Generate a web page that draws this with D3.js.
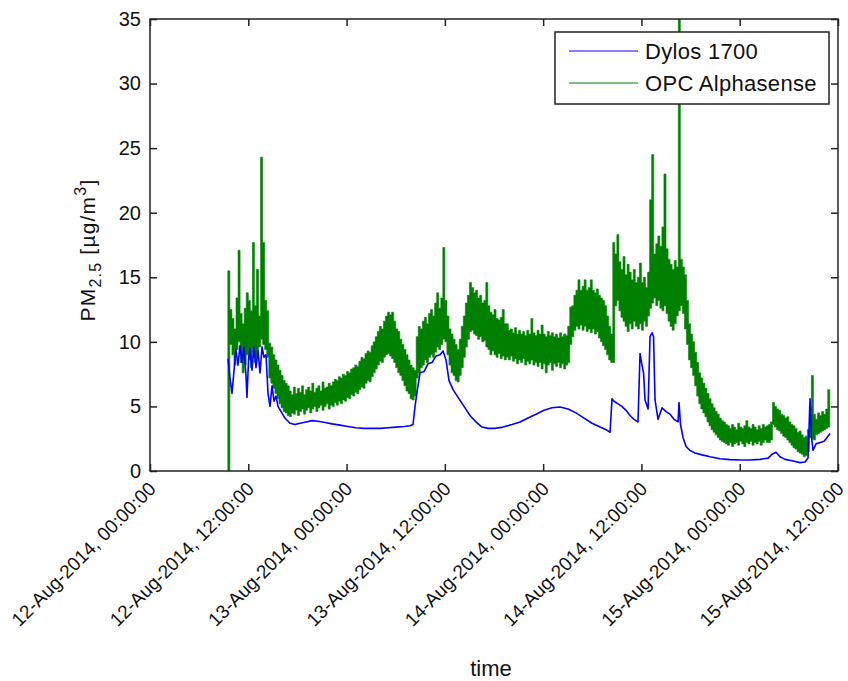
<!DOCTYPE html>
<html>
<head>
<meta charset="utf-8">
<script src="https://cdn.jsdelivr.net/npm/d3@7"></script>
<style>
  html, body { margin: 0; padding: 0; background: #fff; }
  svg { display: block; font-family: "Liberation Sans", Arial, sans-serif; }
</style>
</head>
<body>
<svg id="chart" width="848" height="681"></svg>
<script>
// PM2.5 time series from two sensors, 12–15 Aug 2014

// OPC Alphasense: minimum and maximum reading within each 15-minute bin,
// bins starting 12-Aug-2014 09:30
const opcStart = "2014-08-12T09:30:00Z";
const opcBinMinutes = 15;
const opcHigh = [
  15.5,
  12.5, 11.8, 11.0, 13.4, 17.1, 12.2, 11.4, 12.6, 13.8, 13.2, 12.4, 17.7, 12.8, 15.6, 12.0, 24.3, 17.7, 13.2, 12.4,
  9.9, 9.6, 9.0, 8.6, 8.2, 7.8, 7.4, 7.0, 6.8, 6.6,
  6.2, 5.9, 6.5, 6.0, 6.4, 6.1, 6.6, 5.9, 6.3, 6.5, 6.2, 6.8, 6.1, 6.4, 6.6, 6.2, 6.9, 6.4, 6.5, 6.8, 6.6,
  6.9, 7.1, 7.0, 7.3, 7.2, 7.5, 7.4, 7.7, 7.6, 7.9, 8.0, 8.2, 8.1, 8.5, 8.8, 8.7, 9.1, 9.3, 9.2, 9.7,
  10.0, 10.4, 10.8, 11.2, 11.0, 11.6, 12.0, 12.3, 12.1, 12.3,
  11.6, 11.0, 10.8, 10.2, 9.8, 9.4, 9.0, 8.6, 8.2, 8.0,
  7.8, 10.4, 11.2, 11.0, 11.6, 11.9, 11.4, 12.2, 12.5, 12.0, 13.0, 13.8, 12.6, 13.4, 17.3,
  13.2, 12.0, 11.0, 10.6, 10.2, 9.8, 9.4,
  10.2, 11.2, 12.0, 13.0, 13.6, 14.6, 14.2, 13.8, 14.0, 13.4, 13.6, 13.0, 13.2,
  14.6, 12.8, 12.3, 12.1, 12.5, 11.8, 11.7, 11.9, 12.5, 11.4,
  11.4, 10.9, 11.0, 10.7, 11.1, 10.6, 10.9, 10.6, 10.8, 10.5,
  10.9, 10.6, 11.8, 10.7, 10.5, 10.9, 10.6, 11.3, 10.6, 10.4,
  10.8, 10.5, 10.7, 10.4, 10.6, 10.3, 10.7, 10.4, 10.6, 10.5,
  11.2, 12.7, 12.8, 13.6, 14.0, 14.8, 14.0, 14.3, 14.8, 14.0, 14.2, 14.8, 14.0, 13.8, 14.1, 13.6, 13.4, 13.2,
  12.8, 12.0, 11.2, 10.6, 17.7,
  16.8, 18.3, 16.2, 15.6, 16.6, 15.2, 16.0, 15.4, 14.8, 15.6, 14.6, 15.0,
  16.1, 14.6, 15.0, 14.2, 15.4, 21.0, 24.5, 16.8, 17.6, 18.2, 17.4, 18.9, 23.0, 17.2, 16.4,
  16.0, 15.6, 16.3, 15.8, 40.0, 16.4, 15.8,
  15.2, 13.2, 11.4, 10.6, 10.0, 9.2, 8.4, 7.6, 7.2, 6.8, 6.4, 6.0, 5.6,
  5.2, 4.9, 4.6, 4.4, 4.1, 3.9, 3.8, 3.6,
  3.5, 3.3, 3.6, 3.4, 3.2, 3.7, 3.4, 3.3, 3.5, 3.9, 3.4, 3.3, 3.6, 3.4, 3.2, 3.5, 3.3, 3.6, 3.4, 3.5,
  3.6, 3.8, 5.3, 5.0, 4.8, 4.7, 4.4, 4.3, 4.1, 4.2, 3.8, 3.6, 3.5, 3.3, 3.0, 3.1, 2.8, 2.6, 2.7, 3.2, 5.0, 7.4,
  4.4, 4.0, 4.5, 4.3, 4.6, 4.4, 4.8, 6.3, 4.9
];
const opcLow = [
  0,
  9.8, 9.0, 8.2, 9.4, 10.0, 8.4, 7.6, 8.2, 9.0, 8.6, 8.0, 9.2, 8.4, 8.8, 9.6, 10.2, 9.8, 9.4, 8.8,
  7.2, 6.8, 6.4, 6.0, 5.6, 5.2, 4.9, 4.6, 4.5, 4.3,
  4.2, 4.5, 4.4, 4.7, 4.3, 4.6, 4.8, 4.4, 4.7, 4.9, 4.5, 4.8, 5.0, 4.6, 4.9, 5.1, 4.7, 5.0, 5.2, 4.8, 5.1,
  5.0, 5.3, 5.1, 5.4, 5.2, 5.5, 5.4, 5.7, 5.6, 5.9, 5.8, 6.1, 6.0, 6.3, 6.5, 6.4, 6.8, 7.0, 6.9, 7.3,
  7.6, 7.9, 8.2, 8.5, 8.4, 8.8, 9.0, 9.1, 8.9, 8.7,
  8.4, 8.0, 7.6, 7.4, 7.0, 6.6, 6.2, 6.0, 5.6, 5.5,
  5.8, 7.2, 7.6, 8.0, 8.2, 8.6, 8.4, 8.8, 9.0, 8.8, 9.2, 9.6, 9.4, 9.8, 10.2,
  10.0, 9.0, 8.2, 7.6, 7.4, 7.0, 6.9,
  7.4, 8.0, 8.8, 9.6, 10.2, 10.8, 10.9, 10.6, 10.5, 10.2, 10.4, 10.0, 10.1,
  9.6, 9.4, 9.0, 9.3, 9.0, 8.8, 9.1, 8.7, 8.9, 8.6,
  8.8, 8.6, 8.9, 8.5, 8.7, 8.3, 8.6, 8.4, 8.7, 8.2,
  8.5, 8.3, 8.6, 8.2, 8.4, 8.1, 8.4, 7.9, 8.3, 7.6,
  8.2, 8.4, 7.8, 8.3, 8.1, 8.4, 8.0, 8.3, 7.9, 8.2,
  8.4, 9.8, 10.4, 10.9, 11.2, 11.0, 11.3, 10.9, 11.2, 10.8, 11.0, 10.7, 11.0, 10.6, 10.8, 10.3, 10.0, 9.7,
  9.4, 9.0, 8.6, 8.4, 8.4,
  12.8, 13.2, 12.4, 11.9, 11.6, 11.2, 10.8, 11.4, 11.0, 11.6, 11.2, 11.0,
  11.4, 10.9, 11.6, 11.2, 12.0, 12.6, 13.0, 13.4, 12.8, 13.2, 12.6, 12.4, 12.8, 12.2, 11.6,
  11.2, 10.9, 11.4, 12.0, 12.4, 12.8, 12.2,
  11.0, 9.8, 8.6, 8.0, 7.4, 6.6, 5.8, 5.2, 4.8, 4.5, 4.2, 3.8, 3.5,
  3.2, 3.0, 2.8, 2.6, 2.4, 2.3, 2.2, 2.1,
  2.0, 2.2, 1.9, 2.1, 2.2, 2.0, 2.3, 2.1, 1.9, 2.2, 2.1, 2.3, 2.0, 2.2, 2.1, 2.3, 2.0, 2.2, 2.4, 2.2,
  2.2, 2.4, 3.6, 3.4, 3.2, 3.1, 2.9, 2.7, 2.6, 2.4, 2.2, 2.0, 1.8, 1.7, 1.5, 1.4, 1.3, 1.1, 1.2, 1.5, 2.6, 2.5,
  2.4, 2.8, 2.9, 3.0, 3.1, 3.2, 3.3, 3.4, 3.6
];

// Dylos 1700: reading times (hours after 12-Aug-2014 00:00) and values
const dylosHours = [
  9.52, 9.77, 10.01, 10.26, 10.5, 10.74, 10.99, 11.23, 11.48, 11.72,
  11.84, 12.03, 12.21, 12.45, 12.7, 12.94, 13.19, 13.43, 13.68, 13.92,
  14.16, 14.41, 14.65, 14.9, 15.14, 15.38, 15.63, 16.0, 16.48, 17.09,
  17.7, 18.32, 19.05, 19.78, 20.51, 21.37, 22.22, 23.2, 24.18, 25.15,
  26.13, 27.11, 28.08, 29.06, 30.04, 31.01, 31.75, 32.11, 32.36, 32.6,
  32.97, 33.46, 33.94, 34.43, 34.92, 35.41, 35.78, 36.14, 36.51, 37.0,
  37.61, 38.34, 39.07, 39.8, 40.54, 41.27, 42.12, 43.1, 44.2, 45.18,
  46.15, 47.13, 48.11, 49.08, 50.06, 51.04, 52.01, 52.99, 53.97, 54.95,
  55.68, 56.17, 56.41, 56.65, 57.14, 57.61, 58.12, 58.61, 59.1, 59.58,
  59.83, 60.07, 60.26, 60.44, 60.81, 61.05, 61.3, 61.48, 61.66, 62.03,
  62.52, 63.0, 63.49, 63.98, 64.47, 64.59, 64.77, 65.08, 65.45, 65.93,
  66.54, 67.4, 68.38, 69.6, 70.82, 72.04, 73.26, 74.48, 75.46, 75.95,
  76.43, 76.92, 77.53, 78.39, 79.37, 79.98, 80.34, 80.59, 80.77, 80.95,
  81.32, 81.81, 82.3, 82.66, 83.03
];
const dylosValues = [
  8.7, 7.2, 6.0, 7.8, 9.4, 8.2, 9.7, 8.4, 9.6, 7.4,
  5.7, 8.6, 9.5, 7.8, 9.6, 8.0, 9.3, 7.6, 9.6, 8.8,
  9.0, 6.0, 5.0, 6.6, 5.4, 5.8, 5.0, 4.6, 4.1, 3.7,
  3.6, 3.7, 3.8, 3.9, 3.85, 3.75, 3.65, 3.55, 3.45, 3.35,
  3.3, 3.3, 3.3, 3.35, 3.4, 3.45, 3.5, 3.6, 5.0, 6.1,
  7.6, 7.7, 8.3, 8.4, 8.9, 9.0, 9.3, 8.6, 7.0, 6.3,
  5.7, 5.0, 4.3, 3.8, 3.4, 3.3, 3.3, 3.4, 3.6, 3.8,
  4.1, 4.4, 4.7, 4.9, 4.95, 4.8, 4.5, 4.1, 3.7, 3.4,
  3.2, 3.0, 5.6, 5.4, 5.2, 5.0, 4.7, 4.3, 4.0, 3.8,
  9.1, 8.2, 7.6, 5.5, 4.8, 10.4, 10.7, 10.4, 5.5, 4.0,
  4.9, 4.6, 4.4, 4.0, 3.8, 5.3, 3.6, 2.6, 1.9, 1.6,
  1.4, 1.25, 1.1, 0.95, 0.88, 0.85, 0.85, 0.9, 1.0, 1.3,
  1.45, 1.1, 0.9, 0.8, 0.65, 0.7, 1.0, 5.6, 2.6, 1.6,
  2.1, 2.2, 2.3, 2.6, 2.9
];

// Axis settings
const xDomain = ["2014-08-12T00:00:00Z", "2014-08-15T12:00:00Z"];
const xTickHours = 12;
const yDomain = [0, 35];
const yTickValues = [0, 5, 10, 15, 20, 25, 30, 35];

const seriesNames = ["Dylos 1700", "OPC Alphasense"];
const seriesColors = ["#0000ff", "#008000"];

const W = 848, H = 681;
const margin = { top: 19, right: 10, bottom: 210, left: 150 };
const innerW = W - margin.left - margin.right;
const innerH = H - margin.top - margin.bottom;
const axisColor = "#222";
const textColor = "#111";

const svg = d3.select("#chart");

const x = d3.scaleUtc()
  .domain(xDomain.map(d => new Date(d)))
  .range([margin.left, margin.left + innerW]);
const y = d3.scaleLinear()
  .domain(yDomain)
  .range([margin.top + innerH, margin.top]);

const t0 = x.domain()[0].getTime();
const opcT0 = new Date(opcStart).getTime();
const opc = opcHigh.map((hi, i) => ({
  t: new Date(opcT0 + i * opcBinMinutes * 60000),
  lo: opcLow[i],
  hi
}));
const dylos = dylosHours.map((h, i) => ({ t: new Date(t0 + h * 3600000), v: dylosValues[i] }));

// Clip the traces to the axes box
svg.append("defs").append("clipPath").attr("id", "plot-clip")
  .append("rect")
  .attr("x", margin.left).attr("y", margin.top)
  .attr("width", innerW).attr("height", innerH);

const traces = svg.append("g").attr("clip-path", "url(#plot-clip)");

// OPC: min–max band per bin
traces.append("path").datum(opc)
  .attr("d", d3.area()
    .curve(d3.curveStepAfter)
    .x(d => x(d.t))
    .y0(d => y(d.lo))
    .y1(d => y(d.hi)))
  .attr("fill", seriesColors[1])
  .attr("stroke", seriesColors[1])
  .attr("stroke-width", 0.6);

// Dylos: line
traces.append("path").datum(dylos)
  .attr("d", d3.line().x(d => x(d.t)).y(d => y(d.v)))
  .attr("fill", "none")
  .attr("stroke", seriesColors[0])
  .attr("stroke-width", 1.6)
  .attr("stroke-linejoin", "round");

// Axes: ticks point inward on all four sides
const xTicks = d3.utcHour.every(xTickHours).range(x.domain()[0], new Date(x.domain()[1].getTime() + 1));
const tickLen = 7;

const gx = svg.append("g")
  .attr("transform", `translate(0,${margin.top + innerH})`)
  .call(d3.axisBottom(x).tickValues(xTicks).tickSize(-tickLen).tickSizeOuter(0).tickFormat(""));
const gxTop = svg.append("g")
  .attr("transform", `translate(0,${margin.top})`)
  .call(d3.axisTop(x).tickValues(xTicks).tickSize(-tickLen).tickSizeOuter(0).tickFormat(""));
const gy = svg.append("g")
  .attr("transform", `translate(${margin.left},0)`)
  .call(d3.axisLeft(y).tickValues(yTickValues).tickSize(-tickLen).tickSizeOuter(0).tickPadding(9).tickFormat(d3.format("d")));
const gyRight = svg.append("g")
  .attr("transform", `translate(${margin.left + innerW},0)`)
  .call(d3.axisRight(y).tickValues(yTickValues).tickSize(-tickLen).tickSizeOuter(0).tickFormat(""));

[gx, gxTop, gy, gyRight].forEach(g => {
  g.selectAll("path.domain").remove();
  g.selectAll(".tick line").attr("stroke", axisColor).attr("stroke-width", 1.5);
});
gy.selectAll(".tick text")
  .attr("fill", textColor)
  .style("font-size", "20px");

// Box around the axes
svg.append("rect")
  .attr("x", margin.left).attr("y", margin.top)
  .attr("width", innerW).attr("height", innerH)
  .attr("fill", "none").attr("stroke", axisColor).attr("stroke-width", 1.5);

// Rotated date labels
const fmt = d3.utcFormat("%d-%b-%Y, %H:%M:%S");
svg.append("g").selectAll("text")
  .data(xTicks)
  .join("text")
  .attr("transform", d => `translate(${x(d) + 7},${margin.top + innerH + 19}) rotate(-45)`)
  .attr("text-anchor", "end")
  .attr("fill", textColor)
  .style("font-size", "19px")
  .text(d => fmt(d));

// Axis titles
svg.append("text")
  .attr("x", margin.left + innerW / 2 - 3)
  .attr("y", 676)
  .attr("text-anchor", "middle")
  .attr("fill", textColor)
  .style("font-size", "22px")
  .text("time");

const yTitle = svg.append("text")
  .attr("transform", `translate(95,250) rotate(-90)`)
  .attr("text-anchor", "middle")
  .attr("fill", textColor)
  .style("font-size", "21px")
  .style("letter-spacing", "1.2px");
yTitle.append("tspan").text("PM");
yTitle.append("tspan").attr("dy", 6).style("font-size", "16px").text("2.5");
yTitle.append("tspan").attr("dy", -6).text(" [µg/m");
yTitle.append("tspan").attr("dy", -9).style("font-size", "16px").text("3");
yTitle.append("tspan").attr("dy", 9).text("]");

// Legend
const legend = svg.append("g");
legend.append("rect")
  .attr("x", 555).attr("y", 32).attr("width", 274).attr("height", 72)
  .attr("fill", "#fff").attr("stroke", axisColor).attr("stroke-width", 1.5);
seriesNames.forEach((name, i) => {
  const ly = 51 + i * 32;
  legend.append("line")
    .attr("x1", 569).attr("x2", 638).attr("y1", ly).attr("y2", ly)
    .attr("stroke", seriesColors[i]).attr("stroke-width", 1.2);
  legend.append("text")
    .attr("x", 645).attr("y", ly + 8)
    .attr("fill", textColor)
    .style("font-size", "22px")
    .style("letter-spacing", "0.3px")
    .text(name);
});
</script>
</body>
</html>
